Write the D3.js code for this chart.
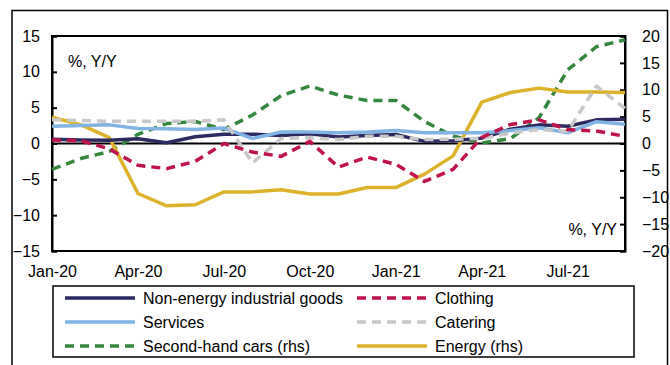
<!DOCTYPE html>
<html><head><meta charset="utf-8">
<script src="https://cdn.jsdelivr.net/npm/d3@7"></script>
<style>
body{margin:0;background:#fff;}
svg{display:block;font-family:"Liberation Sans",Arial,sans-serif;}
</style></head>
<body>
<svg id="c" width="670" height="365"></svg>
<script>
const months = ["Jan-20","Feb-20","Mar-20","Apr-20","May-20","Jun-20","Jul-20","Aug-20","Sep-20","Oct-20","Nov-20","Dec-20","Jan-21","Feb-21","Mar-21","Apr-21","May-21","Jun-21","Jul-21","Aug-21","Sep-21"];
const tickLabels = ["Jan-20","Apr-20","Jul-20","Oct-20","Jan-21","Apr-21","Jul-21"];
const leftTicks = [-15,-10,-5,0,5,10,15];
const rightTicks = [-20,-15,-10,-5,0,5,10,15,20];
const nonEnergy = [0.6,0.5,0.45,0.65,0.1,0.95,1.3,1.3,1.1,1.35,0.9,1.1,1.25,0.3,0.4,0.75,2.0,2.6,2.4,3.3,3.4];
const services  = [2.4,2.5,2.6,2.1,2.05,1.95,2.15,0.7,1.6,1.6,1.5,1.6,1.8,1.5,1.5,1.5,1.8,2.2,1.5,3.05,2.7];
const clothing  = [0.5,0.4,-0.75,-3.05,-3.5,-2.5,0.0,-1.2,-1.8,0.3,-3.3,-1.9,-2.9,-5.3,-3.6,0.85,2.65,3.3,1.95,1.75,1.0];
const catering  = [3.3,3.2,3.1,3.1,3.1,3.1,3.3,-2.7,0.7,0.8,0.55,1.0,1.0,0.55,0.6,0.7,1.45,1.95,1.7,8.0,4.9];
const secondHand= [-4.8,-2.8,-1.5,1.7,3.7,4.1,2.6,5.3,8.9,10.7,9.0,8.0,8.0,4.1,1.4,0.1,0.9,4.8,13.7,18.0,19.3];
const energy    = [4.9,3.5,1.1,-9.3,-11.6,-11.4,-9.0,-9.0,-8.6,-9.4,-9.4,-8.2,-8.2,-5.7,-2.3,7.7,9.5,10.3,9.6,9.6,9.5];

const series = [
  {name:"Second-hand cars (rhs)", data:secondHand, axis:"R", color:"#33883D", dash:"9,6"},
  {name:"Energy (rhs)", data:energy, axis:"R", color:"#DDB22A", dash:null},
  {name:"Non-energy industrial goods", data:nonEnergy, axis:"L", color:"#2C2A60", dash:null},
  {name:"Services", data:services, axis:"L", color:"#80B4E4", dash:null},
  {name:"Catering", data:catering, axis:"L", color:"#C8C8C8", dash:"9,6"},
  {name:"Clothing", data:clothing, axis:"L", color:"#C0134C", dash:"9,6"}
];
const legendOrder = ["Non-energy industrial goods","Clothing","Services","Catering","Second-hand cars (rhs)","Energy (rhs)"];

const svg = d3.select("#c");
const L=52, R=625, T=36, B=251;
const x = d3.scalePoint().domain(months).range([L,R]);
const yL = d3.scaleLinear().domain([-15,15]).range([B,T]);
const yR = d3.scaleLinear().domain([-20,20]).range([B,T]);

// outer frame
svg.append("path").attr("d","M12,366V10.5H667.5V366").attr("fill","none").attr("stroke","#000").attr("stroke-width",1.5);

// plot box
svg.append("rect").attr("x",L).attr("y",T).attr("width",R-L).attr("height",B-T)
  .attr("fill","none").attr("stroke","#000").attr("stroke-width",2);

// axes
const gl = svg.append("g").attr("transform",`translate(${L},0)`)
  .call(d3.axisLeft(yL).tickValues(leftTicks).tickSize(-5).tickPadding(12));
const gr = svg.append("g").attr("transform",`translate(${R},0)`)
  .call(d3.axisRight(yR).tickValues(rightTicks).tickSize(-5).tickPadding(17));
const gb = svg.append("g").attr("transform",`translate(0,${B})`)
  .call(d3.axisBottom(x).tickValues(tickLabels).tickSize(0).tickPadding(15));
[gl,gr,gb].forEach(g=>{
  g.select(".domain").attr("stroke","#000").attr("stroke-width",2);
  g.selectAll(".tick line").attr("stroke","#000").attr("stroke-width",2);
  g.selectAll("text").attr("font-size",16).attr("fill","#000").attr("font-family","'Liberation Sans',Arial,sans-serif");
});
gb.select(".domain").remove();

// zero line
svg.append("line").attr("x1",L).attr("x2",R).attr("y1",yL(0)).attr("y2",yL(0))
  .attr("stroke","#000").attr("stroke-width",2);

// lines
series.forEach(s=>{
  const ys = s.axis==="L"?yL:yR;
  const line = d3.line().x((d,i)=>x(months[i])).y(d=>ys(d));
  svg.append("path").datum(s.data).attr("d",line).attr("fill","none")
    .attr("stroke",s.color).attr("stroke-width",3.5)
    .attr("stroke-dasharray",s.dash).attr("stroke-linejoin","round");
});

// unit labels
svg.append("text").attr("x",68).attr("y",67).attr("font-size",16).text("%, Y/Y");
svg.append("text").attr("x",617).attr("y",235).attr("text-anchor","end").attr("font-size",16).text("%, Y/Y");

// legend
svg.append("rect").attr("x",53).attr("y",286).attr("width",581).attr("height",71)
  .attr("fill","#fff").attr("stroke","#000").attr("stroke-width",1.5);
legendOrder.forEach((nm,k)=>{
  const s = series.find(d=>d.name===nm);
  const col = k%2, row = Math.floor(k/2);
  const lx = col===0?65:357, ly = 298+row*24;
  svg.append("line").attr("x1",lx).attr("x2",lx+70).attr("y1",ly).attr("y2",ly)
    .attr("stroke",s.color).attr("stroke-width",3.5).attr("stroke-dasharray",s.dash);
  svg.append("text").attr("x",lx+78).attr("y",ly+5.5).attr("font-size",16).text(nm);
});
</script>
</body></html>
